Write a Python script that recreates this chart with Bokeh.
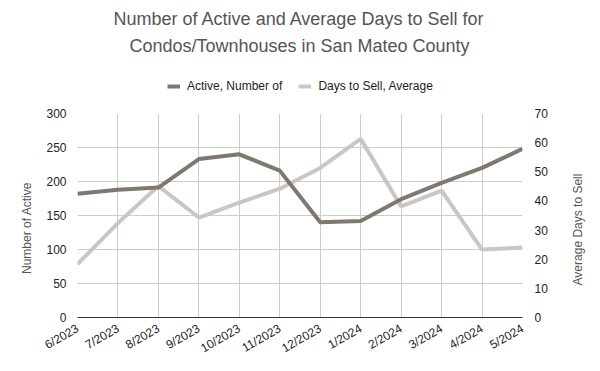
import math
from bokeh.plotting import figure
from bokeh.layouts import column, row
from bokeh.models import (Range1d, LinearAxis, FixedTicker, Label, Legend, LegendItem, ColumnDataSource)
from bokeh.embed import file_html
from bokeh.resources import INLINE

months = ["6/2023", "7/2023", "8/2023", "9/2023", "10/2023", "11/2023",
          "12/2023", "1/2024", "2/2024", "3/2024", "4/2024", "5/2024"]
active = [182, 188, 191, 233, 240, 216, 140, 142, 174, 198, 220, 248]
days_to_sell = [18.3, 32.4, 45.1, 34.3, 39.4, 44.2, 51.3, 61.3, 38.1, 43.5, 23.3, 24.0]
left_ticks = [0, 50, 100, 150, 200, 250, 300]
right_ticks = [0, 10, 20, 30, 40, 50, 60, 70]
title_lines = ["Number of Active and Average Days to Sell for",
               "Condos/Townhouses in San Mateo County"]
series_names = ["Active, Number of", "Days to Sell, Average"]
left_title = "Number of Active"
right_title = "Average Days to Sell"

FONT = "Liberation Sans"
C_ACTIVE = "#7f7870"
C_DAYS = "#ccc6c2"
W, H = 600, 371
BL, BR = 77, 78          # plot-area borders (px)
HEAD_H = 103
SIDE_L, SIDE_R = 40, 40
TOP_B, BOT_B = 10, 54
BODY_H = H - HEAD_H


def blank(width, height, **kw):
    f = figure(width=width, height=height, output_backend="svg", toolbar_location=None,
               x_axis_location=None, y_axis_location=None,
               x_range=Range1d(0, 1), y_range=Range1d(0, 1), **kw)
    f.grid.visible = False
    f.outline_line_color = None
    f.background_fill_color = "white"
    f.border_fill_color = "white"
    return f


# ---------- header (title + legend) ----------
head = blank(W, HEAD_H, min_border_left=BL, min_border_right=BR,
             min_border_top=0, min_border_bottom=0)
for txt, yy in zip(title_lines, [HEAD_H - 18, HEAD_H - 45]):
    head.add_layout(Label(x=299 - BL, y=yy, x_units="screen", y_units="screen", text=txt,
                          text_align="center", text_baseline="middle",
                          text_font=FONT, text_font_size="18px", text_color="#555555"))

nan = float("nan")
d1 = head.line(x=[nan], y=[nan], line_color=C_ACTIVE, line_width=4)
d2 = head.line(x=[nan], y=[nan], line_color=C_DAYS, line_width=4)
legend = Legend(items=[LegendItem(label=series_names[0], renderers=[d1]),
                       LegendItem(label=series_names[1], renderers=[d2])],
                orientation="horizontal", location=(167 - BL, HEAD_H - 96),
                border_line_color=None, background_fill_alpha=0,
                padding=0, margin=0, spacing=16, label_standoff=7,
                glyph_width=13, glyph_height=20,
                label_text_font=FONT, label_text_font_size="12px",
                label_text_color="#222222")
head.add_layout(legend, "center")

# ---------- side panels with the axis titles ----------
left_side = blank(SIDE_L, BODY_H, min_border_left=0, min_border_right=0,
                  min_border_top=TOP_B, min_border_bottom=BOT_B)
left_side.add_layout(Label(x=26, y=317 - 227.5, x_units="screen", y_units="screen",
                           text=left_title, angle=math.pi / 2,
                           text_align="center", text_baseline="middle",
                           text_font=FONT, text_font_size="12px", text_color="#555555"))
right_side = blank(SIDE_R, BODY_H, min_border_left=0, min_border_right=0,
                   min_border_top=TOP_B, min_border_bottom=BOT_B)
right_side.add_layout(Label(x=577 - (W - SIDE_R), y=317 - 229, x_units="screen", y_units="screen",
                            text=right_title, angle=math.pi / 2,
                            text_align="center", text_baseline="middle",
                            text_font=FONT, text_font_size="12px", text_color="#555555"))

# ---------- main chart ----------
xs = list(range(len(months)))
src = ColumnDataSource(dict(x=xs, active=active, days=days_to_sell))

p = figure(width=W - SIDE_L - SIDE_R, height=BODY_H, output_backend="svg", toolbar_location=None,
           x_range=Range1d(0, len(months) - 1), y_range=Range1d(0, 300),
           min_border_left=BL - SIDE_L, min_border_right=BR - SIDE_R,
           min_border_top=TOP_B, min_border_bottom=BOT_B)
p.outline_line_color = None
p.background_fill_color = "white"
p.border_fill_color = "white"

p.extra_y_ranges = {"days": Range1d(0, 70)}

r_days = p.line("x", "days", source=src, y_range_name="days", line_color=C_DAYS, line_width=4)
r_active = p.line("x", "active", source=src, line_color=C_ACTIVE, line_width=4)

xa = p.xaxis[0]
xa.ticker = FixedTicker(ticks=xs)
xa.major_label_overrides = {i: m for i, m in enumerate(months)}
xa.major_label_orientation = math.pi / 6
xa.axis_line_color = "#333333"
xa.major_tick_line_color = None
xa.minor_tick_line_color = None
xa.major_label_text_font = FONT
xa.major_label_text_font_size = "12px"
xa.major_label_text_color = "#222222"
xa.major_label_standoff = 4


def style_ticks(ax, standoff):
    ax.axis_line_color = None
    ax.major_tick_line_color = None
    ax.minor_tick_line_color = None
    ax.major_label_text_font = FONT
    ax.major_label_text_font_size = "12px"
    ax.major_label_text_color = "#222222"
    ax.major_label_standoff = standoff


ya = p.yaxis[0]
ya.ticker = FixedTicker(ticks=left_ticks)
style_ticks(ya, 5)

ra = LinearAxis(y_range_name="days", ticker=FixedTicker(ticks=right_ticks))
style_ticks(ra, 6)
p.add_layout(ra, "right")

p.xgrid.ticker = FixedTicker(ticks=xs)
p.ygrid.ticker = FixedTicker(ticks=left_ticks)
p.xgrid.grid_line_color = "#cccccc"
p.ygrid.grid_line_color = "#cccccc"

layout = column(head, row(left_side, p, right_side, spacing=0), spacing=0)
open("out.html", "w").write(file_html(layout, INLINE))
